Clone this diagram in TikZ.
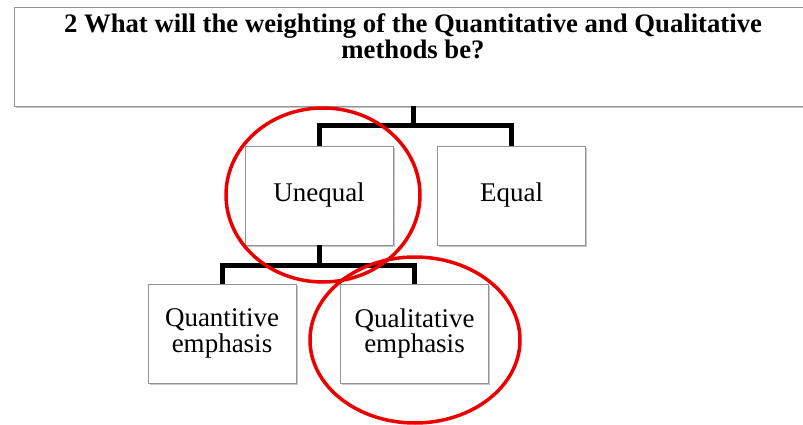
\documentclass[tikz,border=0pt]{standalone}
\usepackage{fontspec}
\setmainfont{Liberation Serif}
\usetikzlibrary{shadows}

\tikzset{
  box/.style={draw=gray!85, line width=0.8pt, fill=white, minimum width=148pt,
    minimum height=99pt, inner sep=0pt, align=center,
    font=\fontsize{27}{25.5}\selectfont,
    drop shadow={shadow xshift=1.8pt, shadow yshift=-1.8pt, opacity=0.45}},
  link/.style={line width=5pt, line join=miter},
  ring/.style={draw=red!92!black, line width=3.5pt},
}

\begin{document}
\begin{tikzpicture}[x=1pt,y=-1pt]
	\useasboundingbox (0,0) rectangle (803,425);
	% question
	\node[box, minimum width=798pt] (q) at (413,56.5) {};
	\node[anchor=north, align=center, inner sep=0pt,
		font=\bfseries\fontsize{26.7}{26}\selectfont] (qtitle) at (413,13.5)
		{2 What will the weighting of the Quantitative and Qualitative\\methods be?};
	% answers
	\node[box] (uneq) at (319,195.5) {Unequal};
	\node[box] (eq) at (511.5,195.5) {Equal};
	\node[box] (quan) at (222,333.5) {Quantitive\\emphasis};
	\node[box] (qual) at (414.5,333.5) {Qualitative\\emphasis};
	% links
	\coordinate (qj) at (413,126);
	\coordinate (uj) at (319,265);
	\draw[link] (q.south) -- (qj) -| (uneq.north);
	\draw[link] (qj) -| (eq.north);
	\draw[link] (uneq.south) -- (uj) -| (quan.north);
	\draw[link] (uj) -| (qual.north);
	% circled choices
	\draw[ring] (323,195) ellipse [x radius=97pt, y radius=87pt];
	\draw[ring] (415,340) ellipse [x radius=105pt, y radius=83pt];
\end{tikzpicture}
\end{document}
